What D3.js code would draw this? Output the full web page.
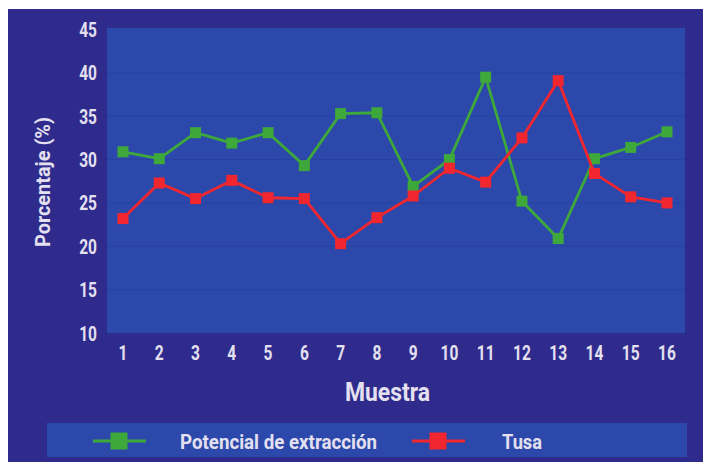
<!DOCTYPE html>
<html>
<head>
<meta charset="utf-8">
<script src="https://cdn.jsdelivr.net/npm/d3@7"></script>
<style>
  html, body { margin: 0; padding: 0; background: #ffffff; }
  svg { display: block; }
  text { font-family: Roboto, "DejaVu Sans", sans-serif; font-weight: 700; fill: #e4e0f0; }
</style>
</head>
<body>
<svg id="chart" width="703" height="462"></svg>
<script>
// Sample numbers along the x axis
const muestras = [1, 2, 3, 4, 5, 6, 7, 8, 9, 10, 11, 12, 13, 14, 15, 16];
// Percentage values per sample
const potencialExtraccion = [30.9, 30.1, 33.1, 31.9, 33.1, 29.3, 35.3, 35.4, 26.9, 30.0, 39.5, 25.2, 20.9, 30.1, 31.4, 33.2];
const tusa = [23.2, 27.3, 25.5, 27.6, 25.6, 25.5, 20.3, 23.3, 25.8, 29.0, 27.4, 32.5, 39.1, 28.4, 25.7, 25.0];
const yTicks = [10, 15, 20, 25, 30, 35, 40, 45];
const seriesNames = ["Potencial de extracción", "Tusa"];

const svg = d3.select("#chart");

// Outer panel
svg.append("rect").attr("x", 8).attr("y", 9).attr("width", 695).attr("height", 453).attr("fill", "#2f2b8c");

const plot = { left: 107, right: 685, top: 28, bottom: 333 };

const x = d3.scalePoint().domain(muestras).range([123, 667]);
const y = d3.scaleLinear().domain([10, 45]).range([plot.bottom, 29.5]);

// Plot background
svg.append("rect")
  .attr("x", plot.left).attr("y", plot.top)
  .attr("width", plot.right - plot.left).attr("height", plot.bottom - plot.top)
  .attr("fill", "#2b48aa");

// Faint horizontal gridlines
svg.append("g").selectAll("line").data(yTicks.slice(1, -1)).join("line")
  .attr("x1", plot.left).attr("x2", plot.right)
  .attr("y1", d => y(d)).attr("y2", d => y(d))
  .attr("stroke", "#2742a0").attr("stroke-width", 1);

// Condensed labels: glyphs squeezed horizontally around their anchor point
function condensed(g, px, py, str, size, anchor, sx) {
  return g.append("text")
    .attr("transform", `translate(${px},${py}) scale(${sx},1)`)
    .attr("text-anchor", anchor)
    .attr("font-size", size)
    .attr("font-weight", 500)
    .text(str);
}

// Y tick labels
const yLab = svg.append("g");
yTicks.forEach(t => condensed(yLab, 97, y(t) + 7.5, String(t), 21, "end", 0.74));

// X tick labels
const xLab = svg.append("g");
muestras.forEach(m => condensed(xLab, x(m), 360, String(m), 21, "middle", 0.74));

// Axis titles
svg.append("text").attr("x", 345).attr("y", 401)
  .attr("font-size", 26).attr("font-weight", 500)
  .attr("textLength", 85).attr("lengthAdjust", "spacingAndGlyphs")
  .text("Muestra");
svg.append("text").attr("transform", "translate(50,247) rotate(-90)")
  .attr("font-size", 21).attr("font-weight", 500)
  .attr("textLength", 130).attr("lengthAdjust", "spacingAndGlyphs")
  .text("Porcentaje (%)");

// Series
const series = [
  { name: seriesNames[0], values: potencialExtraccion, color: "#3ea83a" },
  { name: seriesNames[1], values: tusa, color: "#f2262e" }
];
const line = d3.line().x((d, i) => x(muestras[i])).y(d => y(d));
const ms = 11;

series.forEach(s => {
  svg.append("path").datum(s.values)
    .attr("d", line).attr("fill", "none")
    .attr("stroke", s.color).attr("stroke-width", 2.8).attr("stroke-linejoin", "round");
  svg.append("g").selectAll("rect").data(s.values).join("rect")
    .attr("x", (d, i) => x(muestras[i]) - ms / 2)
    .attr("y", d => y(d) - ms / 2)
    .attr("width", ms).attr("height", ms)
    .attr("fill", s.color);
});

// Legend strip
svg.append("rect").attr("x", 47).attr("y", 423).attr("width", 640).attr("height", 34).attr("fill", "#2b48aa");
const legendItems = [
  { s: series[0], lx: 93, tx: 180, tw: 197 },
  { s: series[1], lx: 412, tx: 502, tw: 40 }
];
legendItems.forEach(li => {
  const cy = 441;
  svg.append("line").attr("x1", li.lx).attr("x2", li.lx + 53).attr("y1", cy).attr("y2", cy)
    .attr("stroke", li.s.color).attr("stroke-width", 2.8);
  svg.append("rect").attr("x", li.lx + 26 - 8.5).attr("y", cy - 8.5).attr("width", 17).attr("height", 17)
    .attr("fill", li.s.color);
  svg.append("text").attr("x", li.tx).attr("y", 449)
    .attr("font-size", 21).attr("font-weight", 500)
    .attr("textLength", li.tw).attr("lengthAdjust", "spacingAndGlyphs")
    .text(li.s.name);
});
</script>
</body>
</html>
